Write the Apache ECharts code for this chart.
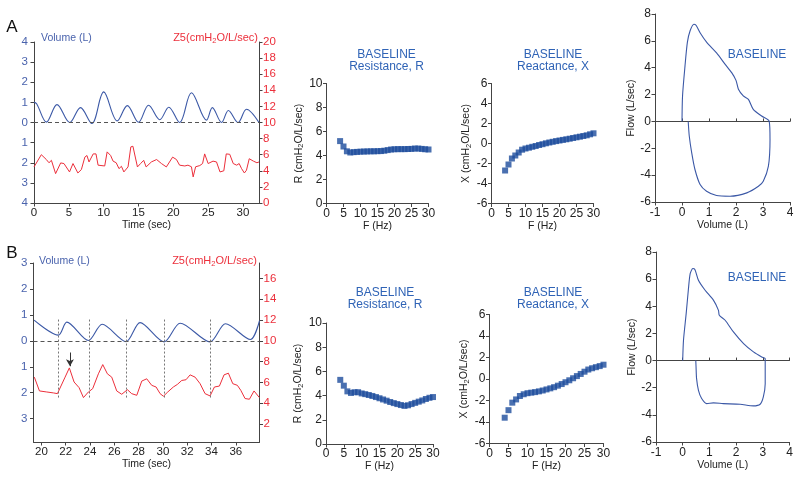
<!DOCTYPE html>
<html><head><meta charset="utf-8">
<script src="https://cdn.jsdelivr.net/npm/echarts@6/dist/echarts.min.js"></script>
<style>html,body{margin:0;padding:0;background:#fff}#c{width:800px;height:477px}</style>
</head><body><div id="c"></div>
<script>
// ---------- DATA ----------
// Panel A: volume trace (L) vs time (sec)
const timeVolA = [0, 0.4, 1.78, 3.3, 5.13, 6.67, 8.3, 10.0, 11.95, 13.4, 15.0, 16.45, 18.06, 19.35, 20.9, 22.6, 24.77, 25.6, 26.93, 27.9, 29.3, 30.5, 32.3];
const volA = [1.02, 0.92, 0.02, 0.89, 0.0, 0.74, -0.05, 1.52, 0.08, 0.84, 0.01, 0.86, 0.14, 0.76, 0.0, 1.48, 0.12, 0.74, 0.0, 0.6, 0.0, 0.66, 0.0];
// Panel A: Z5 trace (cmH2O/L/sec)
const timeZ5A = [0,1.05,1.77,2.15,2.5,3.1,3.83,4.3,5.1,5.6,6.3,6.8,7.3,7.6,7.9,8.5,8.9,9.2,10.15,10.5,11.0,11.35,11.8,12.2,12.55,12.9,13.5,13.9,14.2,14.85,15.3,15.75,16.1,16.85,17.6,18.3,19.0,19.9,20.45,20.9,21.65,22.1,22.6,22.85,23.2,23.8,24.2,24.5,25.0,25.7,26.2,26.7,27.25,27.6,28.1,28.6,29.1,29.45,29.8,30.2,30.5,30.9,31.5,32.0,32.3];
const z5A = [4.48,6.0,5.4,5.0,5.3,3.65,4.98,4.9,3.86,4.9,3.73,4.15,5.7,5.9,5.1,6.1,6.1,4.7,4.6,6.35,5.9,5.2,5.0,4.27,4.56,3.86,4.48,6.97,7.05,4.48,4.9,5.3,4.48,5.1,5.4,4.9,4.48,5.7,5.4,4.7,4.6,4.7,4.5,3.24,4.5,4.65,4.9,6.1,4.9,5.2,5.1,3.86,4.0,6.1,6.05,4.9,4.7,4.9,4.27,3.73,4.07,5.5,5.2,5.0,5.1];
// Panel B: volume trace
const timeVolB = [19.4, 21.4, 22.09, 23.87, 25.0, 26.97, 28.12, 30.1, 31.42, 33.88, 35.15, 37.2, 37.95];
const volB = [0.8, 0.22, 0.72, 0.01, 0.64, -0.03, 0.7, -0.04, 0.68, -0.04, 0.66, 0.05, 0.78];
// Panel B: Z5 trace
const timeZ5B = [19.42,19.84,20.44,20.99,21.32,21.95,22.3,22.69,23.1,23.46,23.87,24.22,24.69,25.05,25.43,25.79,26.2,26.61,27.08,27.43,27.85,28.26,28.67,29.08,29.44,29.77,30.04,30.4,30.86,31.19,31.55,31.9,32.24,32.65,33.06,33.47,33.88,34.24,34.65,35.03,35.39,35.75,36.13,36.41,36.76,37.12,37.5,37.94];
const z5B = [6.5,5.17,5.07,4.98,4.91,6.5,7.39,6.03,5.49,4.53,5.07,5.39,6.82,7.71,6.82,6.5,5.17,4.85,5.29,4.91,4.75,6.12,6.34,5.71,5.55,4.91,4.66,5.07,5.55,5.8,6.18,6.25,6.72,6.5,5.87,4.91,4.69,5.55,5.64,6.72,6.88,5.87,5.71,5.23,4.44,4.37,5.17,4.53];
// Panel B: vertical guide lines (sec) and their extent (L), arrow (sec, L)
const guideTimesB = [21.4, 23.9, 27.0, 30.1, 33.9];
const guideTopB = 0.82, guideBottomB = -2.24;
const arrowB = {t: 22.35, from: -0.45, to: -0.98};
// Oscillometry: frequency (Hz)
const freq = [4,5,6,7,8,9,10,11,12,13,14,15,16,17,18,19,20,21,22,23,24,25,26,27,28,29,30];
const resA = [5.2,4.75,4.35,4.25,4.28,4.3,4.32,4.33,4.34,4.35,4.35,4.36,4.37,4.4,4.45,4.5,4.52,4.53,4.53,4.53,4.54,4.55,4.58,4.58,4.55,4.52,4.5];
const reacA = [-2.7,-2.1,-1.5,-1.2,-0.9,-0.62,-0.5,-0.42,-0.33,-0.25,-0.15,-0.07,0.02,0.1,0.17,0.24,0.3,0.36,0.42,0.48,0.55,0.62,0.68,0.75,0.82,0.92,1.02];
const resB = [5.3,4.82,4.35,4.22,4.28,4.28,4.18,4.12,4.05,3.97,3.88,3.78,3.68,3.58,3.47,3.38,3.3,3.22,3.15,3.2,3.3,3.4,3.5,3.6,3.72,3.82,3.88];
const reacB = [-3.6,-2.9,-2.2,-1.9,-1.58,-1.42,-1.32,-1.27,-1.22,-1.15,-1.07,-0.97,-0.87,-0.76,-0.62,-0.47,-0.3,-0.12,0.07,0.27,0.47,0.68,0.88,1.0,1.1,1.2,1.33];
// Flow-volume loops
const loopVolA = [0,0.02,0.11,0.2,0.3,0.44,0.52,0.67,0.91,1.28,1.6,1.84,2.0,2.09,2.27,2.46,2.64,2.95,3.23,3.26,3.2,3.01,2.83,2.4,1.78,1.28,0.91,0.67,0.48,0.36,0.27,0.23];
const loopFlowA = [0,1.9,4.1,5.9,6.75,7.24,7.16,6.6,5.9,5.1,4.25,3.63,3.06,2.4,1.9,1.64,0.9,0.4,0,-1.34,-3.33,-4.45,-4.83,-5.32,-5.57,-5.52,-5.2,-4.7,-3.58,-2.34,-1.1,0];
const loopVolB = [0,0.03,0.13,0.21,0.28,0.38,0.46,0.59,0.84,1.15,1.34,1.37,1.59,1.9,2.28,2.65,2.96,3.09,3.09,3.09,3.02,2.9,2.65,2.15,1.52,1.15,0.9,0.71,0.59,0.52,0.5,0.49];
const loopFlowB = [0,1.5,3.46,5.18,6.4,6.78,6.7,5.92,5.18,4.45,3.7,3.34,2.97,2.11,1.25,0.64,0.27,0.15,0,-1.7,-2.68,-3.22,-3.34,-3.22,-3.17,-3.12,-3.17,-2.8,-2.19,-1.33,-0.47,0];
// Tick labels
const timeTicksB = [20,22,24,26,28,30,32,34,36];
const volTicksB = [-3,-2,-1,0,1,2,3];
const z5TicksB = [2,4,6,8,10,12,14,16];

// ---------- STYLE ----------
const FONT = '"Liberation Sans", Arial, sans-serif';
const AX = '#444';
const LINE_BLUE = '#3b58a6';
const LBL_BLUE = '#4a63ad';
const RED = '#ec2f3b';
const MARK = '#1d4c9c';
const TITLE = '#2f63b6';

function merge(a, b) {
  const out = Array.isArray(a) ? a.slice() : Object.assign({}, a);
  for (const k in b) {
    if (b[k] && typeof b[k] === 'object' && !Array.isArray(b[k]) && a && typeof a[k] === 'object' && !Array.isArray(a[k])) out[k] = merge(a[k], b[k]);
    else out[k] = b[k];
  }
  return out;
}
const base = {
  type: 'value', splitLine: {show: false},
  axisLine: {show: true, onZero: false, lineStyle: {color: AX, width: 1}},
  axisTick: {show: true, length: 3.5, lineStyle: {color: AX}},
  axisLabel: {color: '#222', fontSize: 12, fontFamily: FONT, margin: 4},
  nameTextStyle: {color: '#222', fontSize: 10.5, fontFamily: FONT,
    rich: {s: {fontSize: 7.5, fontFamily: FONT, color: '#222', padding: [5, 0, 0, 0]}}},
  nameLocation: 'middle'
};
const ax = o => merge(base, o);
const zip = (xs, ys) => xs.map((x, i) => [x, ys[i]]);

const grids = [
  {left: 34, top: 42, width: 225, height: 161},      // 0 A ts
  {left: 326.5, top: 83.5, width: 102, height: 120}, // 1 A R
  {left: 491.5, top: 83.5, width: 102, height: 120}, // 2 A X
  {left: 655, top: 14, width: 135, height: 188},     // 3 A loop
  {left: 33.5, top: 263, width: 226, height: 179},   // 4 B ts
  {left: 326, top: 323, width: 107, height: 121},    // 5 B R
  {left: 489.5, top: 314.5, width: 114, height: 129},// 6 B X
  {left: 656, top: 252, width: 133.5, height: 190}   // 7 B loop
];

const fAxis = g => ax({gridIndex: g, min: 0, max: 30, interval: 5, name: 'F (Hz)', nameGap: 15});
const loopX = g => ax({gridIndex: g, min: -1, max: 4, interval: 1, name: 'Volume (L)', nameGap: 16, axisLabel: {margin: 5}});
const loopZero = g => ax({gridIndex: g, min: -1, max: 4, interval: 1, position: 'top',
  axisLine: {onZero: true}, axisLabel: {show: false}, axisTick: {length: 3}});
const tsLbl = {fontSize: 11.5};

const xAxis = [
  ax({gridIndex: 0, min: 0, max: 32.3, interval: 5, name: 'Time (sec)', nameGap: 15, axisLabel: tsLbl}),
  fAxis(1), fAxis(2), loopX(3), loopZero(3),
  ax({gridIndex: 4, min: 19.35, max: 37.95, name: 'Time (sec)', nameGap: 15,
      axisLabel: {fontSize: 11.5, customValues: timeTicksB}, axisTick: {customValues: timeTicksB}}),
  fAxis(5), fAxis(6), loopX(7), loopZero(7)
];
const rAxis = g => ax({gridIndex: g, min: 0, max: 10, interval: 2, name: 'R (cmH{s|2}O/L/sec)', nameGap: 17});
const xrAxis = g => ax({gridIndex: g, min: -6, max: 6, interval: 2, name: 'X (cmH{s|2}O/L/sec)', nameGap: 16});
const flowAxis = g => ax({gridIndex: g, min: -6, max: 8, interval: 2, name: 'Flow (L/sec)', nameGap: 14});
const yAxis = [
  ax({gridIndex: 0, position: 'left', min: -4, max: 4, interval: 1,
      axisLabel: {color: LBL_BLUE, fontSize: 11.5, margin: 6, formatter: v => String(Math.abs(v))}}),
  ax({gridIndex: 0, position: 'right', min: 0, max: 20, interval: 2,
      axisLabel: {color: RED, fontSize: 11.5, margin: 4}}),
  rAxis(1), xrAxis(2), flowAxis(3),
  ax({gridIndex: 4, position: 'left', min: -3.9, max: 3,
      axisLabel: {color: LBL_BLUE, fontSize: 11.5, margin: 6, customValues: volTicksB, formatter: v => String(Math.abs(v))},
      axisTick: {customValues: volTicksB}}),
  ax({gridIndex: 4, position: 'right', min: 0.25, max: 17.5,
      axisLabel: {color: RED, fontSize: 11.5, margin: 4, customValues: z5TicksB}, axisTick: {customValues: z5TicksB}}),
  rAxis(5), xrAxis(6), flowAxis(7)
];

const zeroLine = {silent: true, symbol: ['none', 'none'], label: {show: false},
  lineStyle: {type: [4, 3], color: '#555', width: 1.2}, data: [{yAxis: 0}]};
const bMarks = {silent: true, symbol: ['none', 'none'], label: {show: false},
  lineStyle: {type: [4, 3], color: '#555', width: 1.2},
  data: [{yAxis: 0}].concat(
    guideTimesB.map(t => [{coord: [t, guideTopB], lineStyle: {type: [2, 2], color: '#777', width: 1}},
                          {coord: [t, guideBottomB]}]),
    [[{coord: [arrowB.t, arrowB.from], symbol: 'none', lineStyle: {type: 'solid', color: '#333', width: 1}},
      {coord: [arrowB.t, arrowB.to], symbol: 'arrow', symbolSize: [6, 7]}]]
  )};

const scat = (xi, yi, ys) => ({type: 'scatter', xAxisIndex: xi, yAxisIndex: yi, data: zip(freq, ys),
  symbol: 'rect', symbolSize: 6, itemStyle: {color: MARK}, silent: true});
const line = (xi, yi, data, color, smooth, w) => ({type: 'line', xAxisIndex: xi, yAxisIndex: yi, data,
  symbol: 'none', smooth, lineStyle: {color, width: w}, silent: true, animation: false});

const series = [
  Object.assign(line(0, 0, zip(timeVolA, volA), LINE_BLUE, 0.35, 1.1), {markLine: zeroLine}),
  line(0, 1, zip(timeZ5A, z5A), RED, false, 1),
  scat(1, 2, resA), scat(2, 3, reacA),
  line(3, 4, zip(loopVolA, loopFlowA), LINE_BLUE, 0.25, 1.1),
  Object.assign(line(5, 5, zip(timeVolB, volB), LINE_BLUE, 0.3, 1.1), {markLine: bMarks}),
  line(5, 6, zip(timeZ5B, z5B), RED, false, 1),
  scat(6, 7, resB), scat(7, 8, reacB),
  line(8, 9, zip(loopVolB, loopFlowB), LINE_BLUE, 0.25, 1.1)
];

const txt = (x, y, text, fill, size, align, extra) => ({type: 'text', silent: true,
  style: Object.assign({x, y, text, fill, fontSize: size, fontFamily: FONT, align, verticalAlign: 'middle'}, extra || {})});
const z5Rich = {rich: {s: {fontSize: 7.5, fontFamily: FONT, fill: RED, padding: [5, 0, 0, 0]}}};
const graphic = [
  txt(12, 27, 'A', '#111', 17, 'center'),
  txt(12, 253, 'B', '#111', 17, 'center'),
  txt(41, 38, 'Volume (L)', LBL_BLUE, 10.5, 'left'),
  txt(39, 261, 'Volume (L)', LBL_BLUE, 10.5, 'left'),
  txt(258, 38, 'Z5(cmH{s|2}O/L/sec)', RED, 11, 'right', z5Rich),
  txt(257, 261, 'Z5(cmH{s|2}O/L/sec)', RED, 11, 'right', z5Rich),
  txt(386.5, 61, 'BASELINE\nResistance, R', TITLE, 12, 'center', {lineHeight: 12}),
  txt(553, 61, 'BASELINE\nReactance, X', TITLE, 12, 'center', {lineHeight: 12}),
  txt(385, 299, 'BASELINE\nResistance, R', TITLE, 12, 'center', {lineHeight: 12}),
  txt(553, 299, 'BASELINE\nReactance, X', TITLE, 12, 'center', {lineHeight: 12}),
  txt(757, 55, 'BASELINE', TITLE, 12, 'center'),
  txt(757, 278, 'BASELINE', TITLE, 12, 'center')
];

const chart = echarts.init(document.getElementById('c'), null, {renderer: 'canvas'});
chart.setOption({animation: false, backgroundColor: '#fff', grid: grids, xAxis, yAxis, series, graphic});
</script>
</body></html>
